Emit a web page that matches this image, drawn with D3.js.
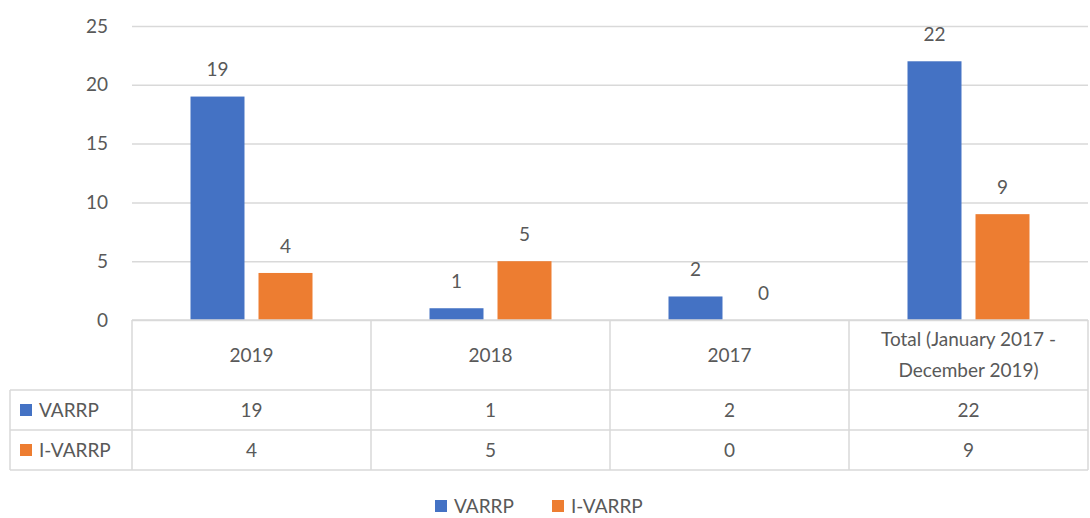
<!DOCTYPE html>
<html>
<head>
<meta charset="utf-8">
<script src="https://cdn.jsdelivr.net/npm/d3@7"></script>
<style>
  body { margin: 0; background: #fff; }
  text { font-family: Lato, "Open Sans", sans-serif; fill: #595959; }
</style>
</head>
<body>
<div id="chart"></div>
<script>
// data
var categories = ["2019", "2018", "2017", "Total (January 2017 - December 2019)"];
var headerLines = [["2019"], ["2018"], ["2017"], ["Total (January 2017 -", "December 2019)"]];
var seriesNames = ["VARRP", "I-VARRP"];
var varrp = [19, 1, 2, 22];
var ivarrp = [4, 5, 0, 9];
var yTicks = [0, 5, 10, 15, 20, 25];

// settings
var svgWidth = 1090;
var svgHeight = 518;
var colors = ["#4472c4", "#ed7d31"];
var gridColor = "#d9d9d9";
var fontSize = 19;

var plot = { left: 132, right: 1088, top: 26, bottom: 320 };
var table = { left: 10, headerBottom: 390, rowHeight: 40 };

var svg = d3.select("#chart")
  .append("svg")
  .attr("width", svgWidth)
  .attr("height", svgHeight);

var x = d3.scaleBand()
  .domain(categories)
  .range([plot.left, plot.right]);

// inner scale for the two series, centred in each category
var groupWidth = 122;
var x1 = d3.scaleBand()
  .domain(seriesNames)
  .range([(x.bandwidth() - groupWidth) / 2, (x.bandwidth() + groupWidth) / 2])
  .paddingInner(0.206);

var y = d3.scaleLinear()
  .domain([0, 25])
  .range([plot.bottom, plot.top]);

// gridlines + y tick labels
var yAxis = svg.append("g")
  .attr("transform", `translate(${plot.left},0)`)
  .call(d3.axisLeft(y).tickValues(yTicks).tickSize(-(plot.right - plot.left)).tickPadding(24));
yAxis.select(".domain").remove();
yAxis.selectAll(".tick line").attr("stroke", gridColor).attr("stroke-width", 1.5);
yAxis.selectAll(".tick text")
  .attr("font-size", fontSize)
  .attr("font-family", "Lato, 'Open Sans', sans-serif")
  .attr("fill", "#595959");

// bars
var rows = categories.map((c, i) => ({ cat: c, values: [varrp[i], ivarrp[i]] }));

var groups = svg.selectAll("g.cat")
  .data(rows)
  .enter()
  .append("g")
  .attr("class", "cat")
  .attr("transform", d => `translate(${x(d.cat)},0)`);

groups.selectAll("rect")
  .data(d => d.values.map((v, j) => ({ name: seriesNames[j], value: v, j: j })))
  .enter()
  .append("rect")
  .attr("x", d => x1(d.name))
  .attr("y", d => y(d.value))
  .attr("width", x1.bandwidth())
  .attr("height", d => y(0) - y(d.value))
  .attr("fill", d => colors[d.j]);

// data labels
groups.selectAll("text.label")
  .data(d => d.values.map((v, j) => ({ name: seriesNames[j], value: v })))
  .enter()
  .append("text")
  .attr("class", "label")
  .attr("x", d => x1(d.name) + x1.bandwidth() / 2)
  .attr("y", d => y(d.value) - 27)
  .attr("dy", "0.35em")
  .attr("text-anchor", "middle")
  .attr("font-size", fontSize)
  .text(d => d.value);

// data table
var tableG = svg.append("g");
var rowTop = [table.headerBottom, table.headerBottom + table.rowHeight];
var tableBottom = table.headerBottom + 2 * table.rowHeight;

// horizontal lines
tableG.append("line")
  .attr("x1", plot.left).attr("x2", plot.right)
  .attr("y1", plot.bottom).attr("y2", plot.bottom);
[table.headerBottom, table.headerBottom + table.rowHeight, tableBottom].forEach(function (yy) {
  tableG.append("line")
    .attr("x1", table.left).attr("x2", plot.right)
    .attr("y1", yy).attr("y2", yy);
});
// vertical lines
tableG.append("line")
  .attr("x1", table.left).attr("x2", table.left)
  .attr("y1", table.headerBottom).attr("y2", tableBottom);
categories.forEach(function (c) {
  tableG.append("line")
    .attr("x1", x(c)).attr("x2", x(c))
    .attr("y1", plot.bottom).attr("y2", tableBottom);
});
tableG.append("line")
  .attr("x1", plot.right).attr("x2", plot.right)
  .attr("y1", plot.bottom).attr("y2", tableBottom);
tableG.selectAll("line").attr("stroke", gridColor).attr("stroke-width", 1.5);

// header text
categories.forEach(function (c, i) {
  var lines = headerLines[i];
  var midY = (plot.bottom + table.headerBottom) / 2;
  var lh = 31;
  lines.forEach(function (ln, k) {
    tableG.append("text")
      .attr("x", x(c) + x.bandwidth() / 2)
      .attr("y", midY + (k - (lines.length - 1) / 2) * lh)
      .attr("dy", "0.35em")
      .attr("text-anchor", "middle")
      .attr("font-size", fontSize)
      .text(ln);
  });
});

// series rows
var seriesData = [varrp, ivarrp];
seriesNames.forEach(function (name, j) {
  var cy = rowTop[j] + table.rowHeight / 2;
  tableG.append("rect")
    .attr("x", 20).attr("y", cy - 6)
    .attr("width", 12).attr("height", 12)
    .attr("fill", colors[j]);
  tableG.append("text")
    .attr("x", 39).attr("y", cy)
    .attr("dy", "0.35em")
    .attr("font-size", fontSize)
    .text(name);
  categories.forEach(function (c, i) {
    tableG.append("text")
      .attr("x", x(c) + x.bandwidth() / 2)
      .attr("y", cy)
      .attr("dy", "0.35em")
      .attr("text-anchor", "middle")
      .attr("font-size", fontSize)
      .text(seriesData[j][i]);
  });
});

// legend
var legend = svg.append("g").attr("transform", "translate(435,506)");
var legendX = [0, 117];
seriesNames.forEach(function (name, j) {
  legend.append("rect")
    .attr("x", legendX[j]).attr("y", -6)
    .attr("width", 12).attr("height", 12)
    .attr("fill", colors[j]);
  legend.append("text")
    .attr("x", legendX[j] + 19).attr("y", 0)
    .attr("dy", "0.35em")
    .attr("font-size", fontSize)
    .text(name);
});
</script>
</body>
</html>
